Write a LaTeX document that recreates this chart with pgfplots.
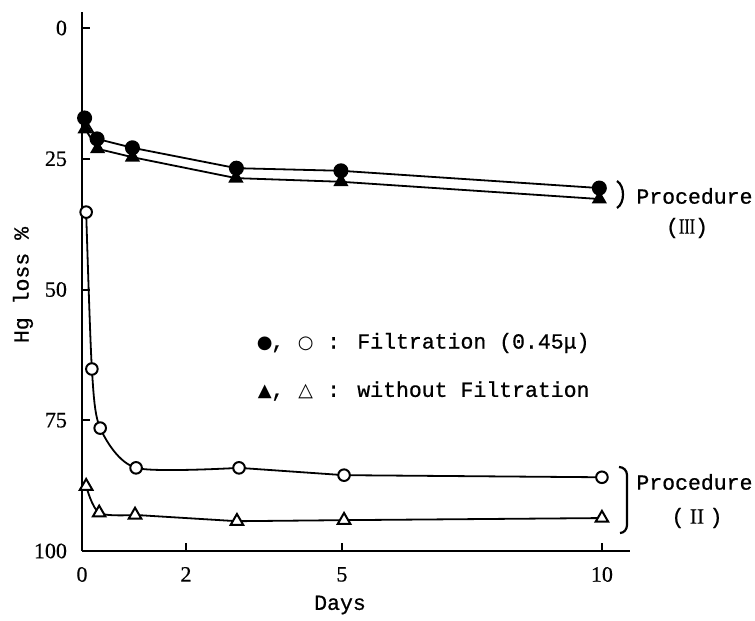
\documentclass[border=0pt]{standalone}
\usepackage{pgfplots}
\usepackage{pgfplotstable}
\usepackage{graphicx}
\pgfplotsset{compat=1.18}
\usepackage{fontspec}
\setmainfont{Liberation Mono}[FakeBold=0.7]
\newfontfamily\serif{Liberation Serif}[FakeBold=0.5]
\newfontfamily\sym{DejaVu Sans}
\pgfplotstableread{
x y
0.05 17.2
0.29 21.2
0.97 22.9
2.97 26.8
4.98 27.3
9.95 30.6
}\fc
\pgfplotstableread{
x y
0.06 19.3
0.30 23.1
0.97 24.7
2.96 28.7
4.98 29.4
9.95 32.7
}\ft
\pgfplotstableread{
x y
0.08 35.2
0.19 65.2
0.35 76.5
1.04 84.1
3.02 84.1
5.04 85.5
10.0 85.9
}\oc
\pgfplotstableread{
x y
0.08 87.6
0.33 92.7
1.02 93.1
2.98 94.3
5.04 94.1
10.0 93.7
}\ot
\begin{document}
\begin{tikzpicture}
\begin{axis}[
  scale only axis, width=274pt, height=269.5pt,
  xmin=0, xmax=10.54, ymin=-3.06, ymax=100, y dir=reverse,
  axis x line=bottom, axis y line=left,
  axis line style={line width=1.2pt, -},
  tick align=inside, major tick length=4pt,
  tick style={line width=1pt, black},
  xtick={0,2,5,10}, ytick={0,25,50,75,100},
  ticklabel style={font=\serif\fontsize{11}{13}\selectfont},
  /pgf/number format/assume math mode=true,
  yticklabel style={xshift=-4pt},
  xticklabel style={yshift=-4.5pt},
  clip=false,
]
\addplot[black, line width=0.9pt, mark=*, mark size=3.3pt] table{\fc};
\addplot[black, line width=0.9pt, mark=triangle*, mark size=3.5pt] table{\ft};
\addplot[black, line width=0.9pt, smooth, tension=0.45, no marks, skip coords between index={5}{7}] table{\oc};
\addplot[black, line width=0.9pt, no marks, skip coords between index={0}{4}] table{\oc};
\addplot[only marks, mark=*, mark size=2.9pt, mark options={fill=white, draw=black, line width=1pt}] table{\oc};
\addplot[black, line width=0.9pt, smooth, no marks, skip coords between index={3}{6}] table{\ot};
\addplot[black, line width=0.9pt, no marks, skip coords between index={0}{2}] table{\ot};
\addplot[only marks, mark=triangle*, mark size=3.6pt, mark options={fill=white, draw=black, line width=1pt}] table{\ot};
\end{axis}
\pgfresetboundingbox
\path (current axis.south west) ++(-41pt,-32pt) rectangle ++(377.5pt,307.5pt);
\begin{scope}[shift={(current axis.south west)}, xshift=-41pt, yshift=275.5pt, x=0.5pt, y=-0.5pt, font=\fontsize{10.75}{13}\selectfont]
\node[rotate=90] at (23,285) {Hg loss \%};
\node at (340,605) {Days};
\node[anchor=west, inner sep=0pt] at (258,343) {\makebox[0.6em]{\sym\fontsize{9}{10}\selectfont ●}, \makebox[0.8em]{\sym\fontsize{9}{10}\selectfont ○} : Filtration (0.45μ)};
\node[anchor=west, inner sep=0pt] at (258,391) {\makebox[0.6em]{\sym\fontsize{9}{10}\selectfont ▲}, \makebox[0.8em]{\sym\fontsize{9.5}{10}\selectfont △} : without Filtration};
\draw[line width=1.1pt] (617,181) .. controls (625,186) and (625,203) .. (617,208);
\node[anchor=west, inner sep=0pt] at (636,196) {Procedure};
\node at (687,228) {(\scalebox{0.75}[1]{\serif III})};
\draw[line width=1.1pt] (619,467) to[out=0,in=90] (627,475) -- (627,525) to[out=-90,in=0] (620,533);
\node[anchor=west, inner sep=0pt] at (636,482) {Procedure};
\node at (697,518) {(\hspace{0.25em}{\serif II}\hspace{0.25em})};
\end{scope}
\end{tikzpicture}
\end{document}
